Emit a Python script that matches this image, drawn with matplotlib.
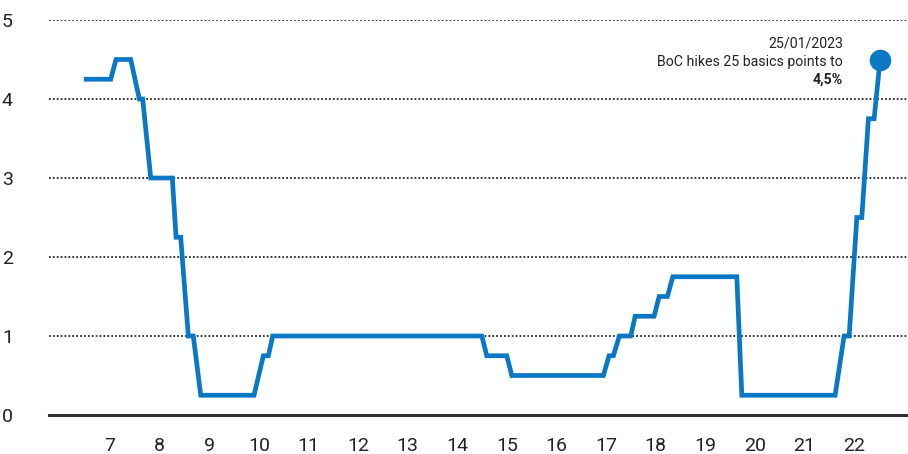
import matplotlib
matplotlib.use("Agg")
import matplotlib.pyplot as plt
from matplotlib import font_manager

# Policy rate (decimal year, percent)
dates = [2007.02, 2007.514, 2007.621, 2007.917, 2008.091, 2008.159, 2008.321,
         2008.756, 2008.831, 2008.925, 2009.079, 2009.179, 2009.329, 2010.403,
         2010.591, 2010.692, 2010.780, 2014.994, 2015.095, 2015.498, 2015.599,
         2017.446, 2017.560, 2017.647, 2017.768, 2017.998, 2018.085, 2018.468,
         2018.569, 2018.736, 2018.845, 2020.135, 2020.236, 2022.117, 2022.298,
         2022.40, 2022.555, 2022.655, 2022.788, 2022.903, 2023.024]
rates = [4.25, 4.25, 4.5, 4.5, 4.0, 4.0, 3.0,
         3.0, 2.25, 2.25, 1.0, 1.0, 0.25, 0.25,
         0.75, 0.75, 1.0, 1.0, 0.75, 0.75, 0.5,
         0.5, 0.75, 0.75, 1.0, 1.0, 1.25, 1.25,
         1.5, 1.5, 1.75, 1.75, 0.25, 0.25, 1.0,
         1.0, 2.5, 2.5, 3.75, 3.75, 4.5]
years = list(range(2007, 2023))
year_labels = [str(y % 100) for y in years]
y_ticks = [0, 1, 2, 3, 4, 5]

names = {f.name for f in font_manager.fontManager.ttflist}
fam = "Liberation Sans Narrow" if "Liberation Sans Narrow" in names else "Roboto"
plt.rcParams["font.family"] = [fam, "DejaVu Sans"]

blue = "#0a78c4"
txt = "#222222"

fig = plt.figure(figsize=(9.08, 4.54), dpi=100)
ax = fig.add_axes([49 / 908, 1 - 415 / 454, 1 - 49 / 908, (415 - 20) / 454])

ax.set_xlim(2006.27, 2023.586)
ax.set_ylim(0, 5)

for v in y_ticks[1:]:
    ax.axhline(v, color="#333333", lw=1.4, linestyle=(0, (0.9, 1.1)), zorder=1)
ax.axhline(0, color="#333333", lw=2.2, zorder=1, clip_on=False)

ax.plot(dates, rates, color=blue, lw=3.4, solid_joinstyle="miter", zorder=3)
ax.plot(dates[-1], rates[-1], "o", color=blue, ms=14.5, zorder=4, clip_on=False)

# annotation (right edge near x=843px)
ann_x = 2022.28
ax.text(ann_x, 4.70, "25/01/2023", ha="right", va="center", fontsize=10.2, color=txt)
ax.text(ann_x, 4.47, "BoC hikes 25 basics points to", ha="right", va="center",
        fontsize=10.2, color=txt)
ax.text(ann_x, 4.25, "4,5%", ha="right", va="center", fontsize=10.2,
        color=txt, fontweight="bold")

ax.set_xticks([y + 0.5 for y in years])
ax.set_xticklabels(year_labels)
ax.set_yticks(y_ticks)
ax.set_yticklabels([str(v) for v in y_ticks])
ax.tick_params(axis="x", length=0, pad=16, labelsize=14, labelcolor=txt)
ax.tick_params(axis="y", length=0, pad=26, labelsize=14, labelcolor=txt)
for s in ax.spines.values():
    s.set_visible(False)

fig.savefig("out.png", dpi=100)
